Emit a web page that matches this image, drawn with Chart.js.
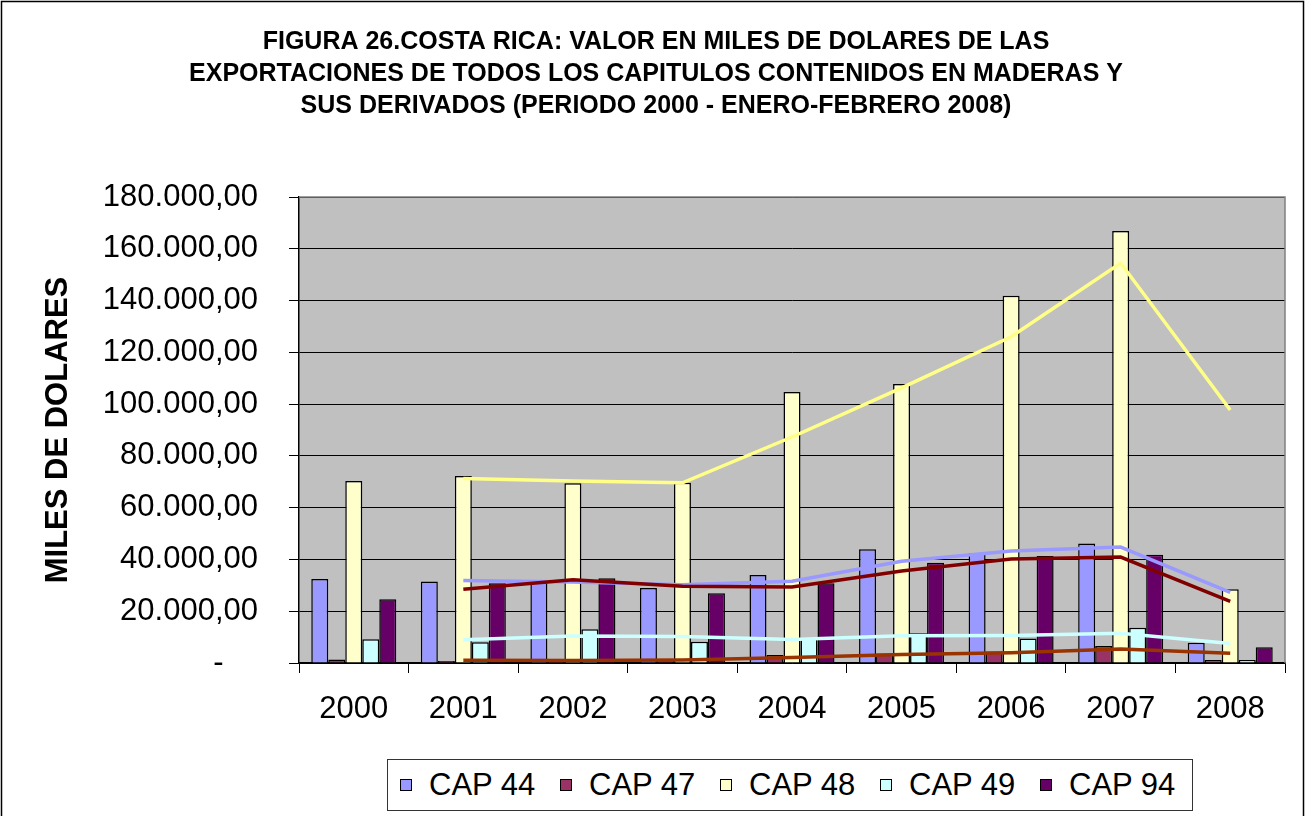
<!DOCTYPE html>
<html>
<head>
<meta charset="utf-8">
<script src="https://cdn.jsdelivr.net/npm/chart.js@4/dist/chart.umd.min.js"></script>
<style>
  body { margin: 0; background: #fff; }
  #wrap { position: relative; width: 1312px; height: 816px; overflow: hidden; }
  #legend {
    position: absolute; left: 387px; top: 759px; width: 806px; height: 52px;
    box-sizing: border-box; border: 1px solid #333; background: #fff;
    display: flex; align-items: center; padding-left: 12px;
    font-family: "Liberation Sans", Arial, sans-serif; font-size: 31px; color: #000;
  }
  #legend .item { display: flex; align-items: center; width: 160px; flex: none; }
  #legend .sw { width: 12px; height: 12px; box-sizing: border-box; border: 1px solid #000; margin-right: 17px; }
</style>
</head>
<body>
<div id="wrap">
  <canvas id="chart" width="1312" height="816"></canvas>
  <div id="legend"></div>
</div>
<script>
// valores en miles de dolares
var years = ['2000', '2001', '2002', '2003', '2004', '2005', '2006', '2007', '2008'];
var cap44 = [32400, 31500, 31300, 29000, 34000, 43900, 42400, 46200, 7800];
var cap47 = [1400, 800, 1200, 1300, 3100, 3700, 4400, 6600, 1200];
var cap48 = [70300, 72200, 69400, 69600, 104700, 107800, 141900, 166900, 28500];
var cap49 = [9200, 8000, 13000, 8200, 9800, 11500, 9500, 13600, 1200];
var cap94 = [24600, 30800, 32700, 26900, 30800, 38700, 41300, 41800, 6100];

// lineas de tendencia (media movil de 2 periodos)
var trend44 = [null, 31900, 31300, 30200, 31600, 39300, 43300, 44800, 27300];
var trend47 = [null, 1100, 1000, 1200, 2100, 3300, 4000, 5400, 3800];
var trend48 = [null, 71300, 70300, 69600, 87300, 106300, 126000, 154500, 97700];
var trend49 = [null, 9000, 10400, 10200, 9100, 10500, 10600, 11500, 7500];
var trend94 = [null, 28500, 32200, 29600, 29400, 35500, 40200, 40900, 23800];

var FONT = '"Liberation Sans", Arial, sans-serif';

function fmt(v) {
  if (v === 0) return '-\u00a0\u00a0\u00a0\u00a0';
  return String(v).replace(/\B(?=(\d{3})+(?!\d))/g, '.') + ',00';
}

function barSet(label, data, color) {
  return { type: 'bar', label: label, data: data, backgroundColor: color,
           borderColor: '#000', borderWidth: 1.5, order: 10 };
}
function lineSet(label, data, color, order) {
  return { type: 'line', label: label, data: data, borderColor: color, borderWidth: 3.5,
           pointRadius: 0, fill: false, tension: 0, order: order };
}

var bars = [
  barSet('CAP 44', cap44, '#9999FF'),
  barSet('CAP 47', cap47, '#993366'),
  barSet('CAP 48', cap48, '#FFFFCC'),
  barSet('CAP 49', cap49, '#CCFFFF'),
  barSet('CAP 94', cap94, '#660066')
];
var lines = [
  lineSet('Media CAP 44', trend44, '#9999FF', 5),
  lineSet('Media CAP 47', trend47, '#993300', 4),
  lineSet('Media CAP 48', trend48, '#FFFF88', 3),
  lineSet('Media CAP 49', trend49, '#CCFFFF', 2),
  lineSet('Media CAP 94', trend94, '#800000', 1)
];

var plotBg = {
  id: 'plotBg',
  beforeDraw: function (chart) {
    var c = chart.ctx, a = chart.chartArea;
    c.save();
    c.fillStyle = '#fff';
    c.fillRect(0, 0, chart.width, chart.height);
    c.fillStyle = '#C0C0C0';
    c.fillRect(a.left, a.top, a.right - a.left, a.bottom - a.top);
    c.restore();
  },
  afterDraw: function (chart) {
    var c = chart.ctx, a = chart.chartArea;
    c.save();
    c.strokeStyle = '#808080';
    c.lineWidth = 1.5;
    c.beginPath();
    c.moveTo(a.left, a.top);
    c.lineTo(a.right, a.top);
    c.lineTo(a.right, a.bottom);
    c.stroke();
    c.strokeStyle = '#000';
    c.lineWidth = 1.5;
    c.strokeRect(1.5, 1.5, 1302, 900);
    c.restore();
  }
};

var ctx = document.getElementById('chart').getContext('2d');
new Chart(ctx, {
  type: 'bar',
  data: { labels: years, datasets: bars.concat(lines) },
  options: {
    responsive: false,
    animation: false,
    devicePixelRatio: 1,
    layout: { padding: { left: 27, right: 27, top: 0, bottom: 93 } },
    datasets: { bar: { categoryPercentage: 0.776, barPercentage: 1 } },
    plugins: {
      legend: { display: false },
      tooltip: { enabled: false },
      title: {
        display: true,
        text: ['FIGURA 26.COSTA RICA: VALOR EN MILES DE DOLARES DE LAS',
               'EXPORTACIONES DE TODOS LOS CAPITULOS CONTENIDOS EN MADERAS Y',
               'SUS DERIVADOS (PERIODO 2000 - ENERO-FEBRERO 2008)'],
        color: '#000',
        font: { family: FONT, size: 25, weight: 'bold', lineHeight: 1.28 },
        padding: { top: 26, bottom: 75 }
      }
    },
    scales: {
      x: {
        grid: { offset: true, drawOnChartArea: false, tickLength: 10, color: '#000' },
        border: { color: '#000', width: 1.5 },
        ticks: { color: '#000', font: { family: FONT, size: 31 }, padding: 18, maxRotation: 0 },
        afterFit: function (s) { s.height = 60; }
      },
      y: {
        min: 0,
        max: 180000,
        ticks: { stepSize: 20000, callback: fmt, color: '#000', font: { family: FONT, size: 31 }, padding: 31 },
        grid: { color: '#000', tickLength: 10 },
        border: { color: '#000', width: 1.5 },
        title: {
          display: true, text: 'MILES DE DOLARES', color: '#000',
          font: { family: FONT, size: 31, weight: 'bold' },
          padding: { top: 13, bottom: 0 }
        },
        afterFit: function (s) { s.width = 272; }
      }
    }
  },
  plugins: [plotBg]
});

// leyenda
var legend = document.getElementById('legend');
bars.forEach(function (d) {
  var item = document.createElement('div');
  item.className = 'item';
  var sw = document.createElement('span');
  sw.className = 'sw';
  sw.style.background = d.backgroundColor;
  var txt = document.createElement('span');
  txt.textContent = d.label;
  item.appendChild(sw);
  item.appendChild(txt);
  legend.appendChild(item);
});
</script>
</body>
</html>
